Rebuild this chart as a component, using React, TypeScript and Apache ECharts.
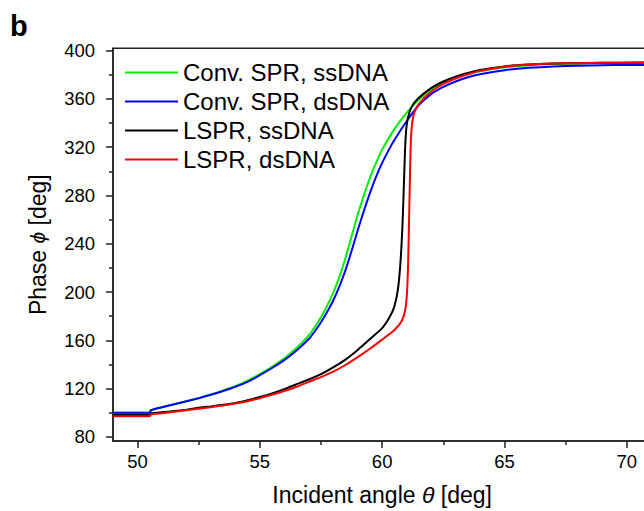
import React, { useEffect, useRef } from "react";
import * as echarts from "echarts";

const FONT = "'Liberation Sans', Arial, Helvetica, sans-serif";

const seriesNames = ["Conv. SPR, ssDNA", "Conv. SPR, dsDNA", "LSPR, ssDNA", "LSPR, dsDNA"];
const seriesColors = ["#00ee00", "#0000ff", "#000000", "#ff0000"];

const convSsDNA: [number, number][] = [
  [49, 100], [50.5, 100], [50.55, 102], [51, 104.5], [51.5, 107], [52, 109.5], [52.5, 112],
  [53, 115], [53.5, 118.5], [54, 122], [54.5, 126.5], [55, 132], [55.5, 138], [56, 145],
  [56.5, 153.5], [57, 164], [57.25, 171], [57.5, 179], [57.75, 188.5], [58, 199.5],
  [58.25, 212.5], [58.5, 228], [58.75, 246], [59, 264], [59.25, 280], [59.5, 294.5],
  [59.75, 307], [60, 318], [60.5, 335], [61, 348.5], [61.5, 359.5], [62, 367.5], [62.5, 373.5],
  [63, 377.5], [63.5, 380.5], [64, 383], [65, 386.2], [66, 388], [67, 389], [68, 389.5],
  [69, 389.8], [70, 390], [72, 390],
];

const convDsDNA: [number, number][] = [
  [49, 100], [50.5, 100], [50.55, 102], [51, 104.5], [51.5, 107], [52, 109.5], [52.5, 112],
  [53, 114.8], [53.5, 118], [54, 121.5], [54.5, 125.5], [55, 131], [55.5, 137], [56, 143.5],
  [56.5, 151.5], [57, 161], [57.25, 167.5], [57.5, 175], [57.75, 183.5], [58, 193],
  [58.25, 204.5], [58.5, 218], [58.75, 234], [59, 251], [59.25, 267], [59.5, 282],
  [59.75, 295.5], [60, 307], [60.25, 317], [60.5, 326], [61, 341.5], [61.5, 355], [62, 364],
  [62.5, 370], [63, 374.5], [63.5, 378], [64, 380.5], [65, 383.8], [66, 385.8], [67, 387],
  [68, 387.6], [69, 388], [70, 388.2], [72, 388.3],
];

const lsprSsDNA: [number, number][] = [
  [49, 98], [50.5, 98], [50.55, 99.3], [51, 100.3], [51.5, 101.3], [52, 102.5], [52.5, 104],
  [53, 105.2], [53.5, 106.5], [54, 108], [54.5, 110.3], [55, 113], [55.5, 116], [56, 119.5],
  [56.5, 123.5], [57, 127.5], [57.5, 132], [58, 137.5], [58.5, 144], [59, 152], [59.5, 161],
  [60, 170], [60.3, 179], [60.5, 188], [60.65, 203], [60.75, 225], [60.83, 255], [60.89, 290],
  [60.94, 320], [61, 338], [61.1, 348], [61.25, 355], [61.5, 361], [62, 369], [62.5, 374.5],
  [63, 378.5], [63.5, 381.5], [64, 384], [65, 387], [66, 388.5], [67, 389.3], [68, 389.7],
  [69, 390], [70, 390.1], [72, 390.2],
];

const lsprDsDNA: [number, number][] = [
  [49, 97], [50.5, 97], [50.55, 98.5], [51, 99.5], [51.5, 100.7], [52, 102], [52.5, 103.3],
  [53, 104.5], [53.5, 106], [54, 107.5], [54.5, 109.5], [55, 112], [55.5, 114.8], [56, 118],
  [56.5, 121.5], [57, 125.5], [57.5, 129.5], [58, 134], [58.5, 139.5], [59, 146], [59.5, 153],
  [60, 160.5], [60.5, 168.5], [60.8, 176], [60.95, 186], [61.03, 205], [61.08, 240],
  [61.13, 290], [61.18, 328], [61.24, 342], [61.32, 349], [61.5, 356], [62, 366], [62.5, 372.5],
  [63, 377], [63.5, 380.5], [64, 383.3], [65, 386.8], [66, 388.5], [67, 389.3], [68, 389.7],
  [69, 390], [70, 390.1], [72, 390.2],
];

const xMajorTicks = [50, 55, 60, 65, 70];
const xMinorTicks = [52.5, 57.5, 62.5, 67.5];
const yMajorTicks = [80, 120, 160, 200, 240, 280, 320, 360, 400];
const yMinorTicks = [100, 140, 180, 220, 260, 300, 340, 380];

const X_MIN = 49;
const X_MAX = 71;
const Y_MIN = 76.5;
const Y_MAX = 402;

export default function App() {
  const ref = useRef<HTMLDivElement>(null);

  useEffect(() => {
    if (!ref.current) return;
    const chart = echarts.init(ref.current, undefined, { renderer: "svg" });
    const axisColor = "#222";
    const allData = [convSsDNA, convDsDNA, lsprSsDNA, lsprDsDNA];

    chart.setOption({
      animation: false,
      backgroundColor: "#fff",
      textStyle: { fontFamily: FONT },
      grid: {
        left: 113,
        top: 48.3,
        bottom: 66.7,
        right: 28.7,
        show: true,
        borderColor: axisColor,
        borderWidth: 1.5,
        backgroundColor: "transparent",
      },
      graphic: [
        {
          type: "text",
          left: 10,
          top: 11,
          style: { text: "b", fontSize: 29, fontWeight: "bold", fill: "#000", fontFamily: FONT },
        },
      ],
      legend: {
        orient: "vertical",
        left: 125,
        top: 60.5,
        padding: 0,
        itemGap: 5,
        icon: "rect",
        itemWidth: 53,
        itemHeight: 2,
        data: seriesNames,
        textStyle: { fontSize: 24, color: "#000", fontFamily: FONT },
      },
      xAxis: [
        {
          type: "value",
          min: X_MIN,
          max: X_MAX,
          position: "bottom",
          name: "Incident angle {i|θ} [deg]",
          nameLocation: "middle",
          nameGap: 42,
          nameTextStyle: {
            fontSize: 23,
            color: "#000",
            fontFamily: FONT,
            rich: { i: { fontStyle: "italic", fontSize: 23, color: "#000", fontFamily: FONT } },
          },
          axisLine: { show: true, lineStyle: { color: axisColor, width: 1.5 } },
          axisTick: {
            show: true,
            customValues: xMajorTicks,
            length: 7,
            lineStyle: { color: axisColor, width: 1.5 },
          },
          axisLabel: {
            customValues: xMajorTicks,
            margin: 11,
            fontSize: 18.5,
            color: "#000",
            fontFamily: FONT,
          },
          splitLine: { show: false },
        },
        {
          type: "value",
          min: X_MIN,
          max: X_MAX,
          position: "bottom",
          axisLine: { show: false },
          axisTick: {
            show: true,
            customValues: xMinorTicks,
            length: 4,
            lineStyle: { color: axisColor, width: 1.5 },
          },
          axisLabel: { show: false },
          splitLine: { show: false },
        },
      ],
      yAxis: [
        {
          type: "value",
          min: Y_MIN,
          max: Y_MAX,
          position: "left",
          name: "Phase {i|ϕ} [deg]",
          nameLocation: "middle",
          nameGap: 64,
          nameTextStyle: {
            fontSize: 23,
            color: "#000",
            fontFamily: FONT,
            rich: { i: { fontStyle: "italic", fontSize: 21, color: "#000", fontFamily: FONT } },
          },
          axisLine: { show: true, lineStyle: { color: axisColor, width: 1.5 } },
          axisTick: {
            show: true,
            customValues: yMajorTicks,
            length: 7,
            lineStyle: { color: axisColor, width: 1.5 },
          },
          axisLabel: {
            customValues: yMajorTicks,
            margin: 18,
            fontSize: 18.5,
            color: "#000",
            fontFamily: FONT,
          },
          splitLine: { show: false },
        },
        {
          type: "value",
          min: Y_MIN,
          max: Y_MAX,
          position: "left",
          axisLine: { show: false },
          axisTick: {
            show: true,
            customValues: yMinorTicks,
            length: 4,
            lineStyle: { color: axisColor, width: 1.5 },
          },
          axisLabel: { show: false },
          splitLine: { show: false },
        },
      ],
      series: seriesNames.map((name, i) => ({
        name,
        type: "line",
        xAxisIndex: 0,
        yAxisIndex: 0,
        data: allData[i],
        showSymbol: false,
        symbol: "none",
        smooth: 0.2,
        clip: true,
        color: seriesColors[i],
        lineStyle: { color: seriesColors[i], width: 2 },
        emphasis: { disabled: true },
      })),
    });

    return () => {
      chart.dispose();
    };
  }, []);

  return (
    <div
      ref={ref}
      style={{ position: "fixed", left: 0, top: 0, width: 680, height: 511, background: "#fff" }}
    />
  );
}
